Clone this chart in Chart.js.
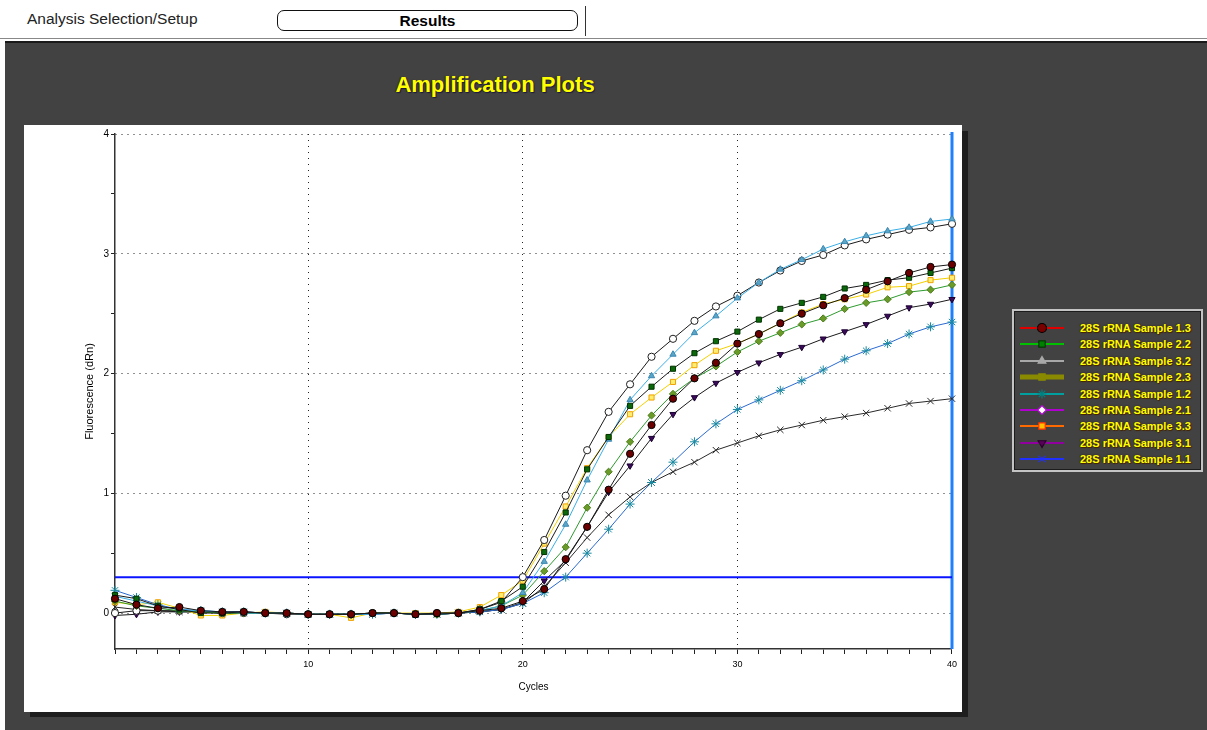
<!DOCTYPE html>
<html>
<head>
<meta charset="utf-8">
<title>Amplification Plots</title>
<script src="https://cdn.jsdelivr.net/npm/chart.js@4.4.1/dist/chart.umd.min.js"></script>
<style>
  body { margin: 0; width: 1207px; height: 730px; background: #fff; position: relative; overflow: hidden;
         font-family: "Liberation Sans", Arial, sans-serif; }
  #setup { position: absolute; left: 27px; top: 10px; font-size: 15.5px; color: #222; }
  #results { position: absolute; left: 277px; top: 10px; width: 299px; height: 19px; border: 1.5px solid #111;
             border-radius: 7px; text-align: center; font-weight: bold; font-size: 15.5px; line-height: 19px; color: #000; }
  #sep { position: absolute; left: 585px; top: 6px; width: 1px; height: 30px; background: #333; }
  #rule { position: absolute; left: 0; top: 38px; width: 1207px; height: 1px; background: #888; }
  #panel { position: absolute; left: 5px; top: 41px; width: 1202px; height: 689px; background: #424242;
           border-top: 2px solid #1a1a1a; box-sizing: border-box; }
  #title { position: absolute; left: 0; top: 71px; width: 990px; text-align: center; font-weight: bold;
           font-size: 22px; line-height: 28px; color: #ffff00; text-shadow: 1px 1px 1px #1a1a3a, -1px 0 1px #3a2a1a; }
  #card { position: absolute; left: 24px; top: 125px; width: 938px; height: 587px; background: #fff; }
  #shadowR { position: absolute; left: 962px; top: 131px; width: 6px; height: 586px; background: #1e1e1e; }
  #shadowB { position: absolute; left: 30px; top: 712px; width: 938px; height: 5px; background: #1e1e1e; }
  #legend { position: absolute; left: 1012px; top: 309px; width: 191px; height: 163px; box-sizing: border-box;
            border: 2px solid #c4c4c4; box-shadow: inset 0 0 0 1px #1c1c1c; background: #424242; }
  .row { position: absolute; left: 4px; height: 16px; width: 185px; }
  .row canvas { position: absolute; left: 0; top: 1px; }
  .row span { position: absolute; left: 62px; top: 0; font-weight: bold; font-size: 11px; line-height: 16px;
              color: #ffff00; white-space: nowrap; text-shadow: 0 0 2px #3a1a00, 1px 1px 0 #4a2a00; }
</style>
</head>
<body>
<div id="setup">Analysis Selection/Setup</div>
<div id="results">Results</div>
<div id="sep"></div>
<div id="rule"></div>
<div id="panel"></div>
<div id="title">Amplification Plots</div>
<div id="shadowR"></div>
<div id="shadowB"></div>
<div id="card"><canvas id="chart" width="938" height="587"></canvas></div>
<div id="legend"></div>

<script>
// cycle numbers on the x axis
const cycles = [1, 2, 3, 4, 5, 6, 7, 8, 9, 10, 11, 12, 13, 14, 15, 16, 17, 18, 19, 20,
                21, 22, 23, 24, 25, 26, 27, 28, 29, 30, 31, 32, 33, 34, 35, 36, 37, 38, 39, 40];

// fluorescence (dRn) per cycle
const sample13 = [0.12, 0.07, 0.04, 0.05, 0.02, 0.01, 0.01, 0.00, 0.00, -0.01, -0.01, -0.01, 0.00, 0.00, -0.01, 0.00, 0.00, 0.02, 0.04, 0.10,
                  0.20, 0.45, 0.72, 1.03, 1.33, 1.57, 1.79, 1.96, 2.09, 2.25, 2.33, 2.42, 2.50, 2.57, 2.63, 2.70, 2.77, 2.84, 2.89, 2.91];
const sample22 = [0.15, 0.12, 0.06, 0.03, 0.00, 0.00, 0.01, 0.00, 0.00, -0.01, -0.01, -0.01, 0.00, 0.00, -0.01, -0.01, 0.00, 0.03, 0.10, 0.22,
                  0.51, 0.84, 1.20, 1.47, 1.73, 1.89, 2.04, 2.17, 2.27, 2.35, 2.45, 2.54, 2.59, 2.64, 2.71, 2.74, 2.78, 2.80, 2.84, 2.88];
const sample32 = [0.14, 0.10, 0.06, 0.03, 0.02, 0.01, 0.00, 0.00, 0.00, -0.01, -0.01, -0.01, -0.01, 0.00, -0.01, -0.01, 0.00, 0.02, 0.06, 0.17,
                  0.43, 0.74, 1.11, 1.45, 1.78, 1.98, 2.16, 2.34, 2.48, 2.63, 2.76, 2.87, 2.95, 3.04, 3.10, 3.15, 3.19, 3.22, 3.27, 3.29];
const sample23 = [0.10, 0.06, 0.04, 0.02, 0.01, 0.00, 0.00, 0.00, 0.00, -0.01, -0.01, -0.01, 0.00, 0.00, -0.01, -0.01, 0.00, 0.02, 0.06, 0.15,
                  0.35, 0.55, 0.88, 1.18, 1.43, 1.65, 1.83, 1.96, 2.06, 2.18, 2.27, 2.34, 2.41, 2.46, 2.54, 2.59, 2.62, 2.68, 2.70, 2.74];
const sample12 = [0.19, 0.13, 0.07, 0.03, 0.02, 0.01, 0.01, 0.00, 0.00, -0.01, -0.01, -0.01, -0.01, 0.00, -0.01, -0.01, 0.00, 0.01, 0.03, 0.08,
                  0.17, 0.30, 0.50, 0.70, 0.91, 1.09, 1.26, 1.43, 1.58, 1.70, 1.78, 1.86, 1.94, 2.03, 2.12, 2.19, 2.25, 2.33, 2.39, 2.43];
const sample21 = [0.00, 0.02, 0.02, 0.02, 0.01, 0.00, 0.00, 0.00, -0.01, -0.01, -0.01, -0.01, 0.00, 0.00, -0.01, 0.00, 0.00, 0.03, 0.09, 0.30,
                  0.61, 0.98, 1.36, 1.68, 1.91, 2.14, 2.29, 2.44, 2.56, 2.65, 2.76, 2.86, 2.94, 2.99, 3.07, 3.12, 3.16, 3.20, 3.22, 3.25];
const sample33 = [0.09, 0.07, 0.09, 0.04, -0.02, -0.02, 0.00, 0.01, 0.00, -0.01, -0.01, -0.04, 0.00, 0.00, 0.00, 0.00, 0.01, 0.05, 0.15, 0.27,
                  0.58, 0.89, 1.21, 1.47, 1.66, 1.80, 1.93, 2.07, 2.19, 2.25, 2.33, 2.42, 2.51, 2.58, 2.62, 2.66, 2.72, 2.73, 2.78, 2.80];
const sample31 = [-0.02, -0.01, 0.01, 0.01, 0.01, 0.01, 0.01, 0.00, 0.00, -0.01, -0.01, -0.01, 0.00, 0.00, -0.01, -0.01, 0.00, 0.01, 0.03, 0.09,
                  0.27, 0.44, 0.72, 1.01, 1.23, 1.46, 1.66, 1.80, 1.92, 2.01, 2.09, 2.16, 2.22, 2.29, 2.35, 2.41, 2.48, 2.55, 2.58, 2.62];
const sample11 = [0.05, 0.03, 0.02, 0.01, 0.01, 0.00, 0.00, 0.00, 0.00, -0.01, -0.01, -0.01, -0.01, 0.00, -0.01, -0.01, 0.00, 0.01, 0.03, 0.08,
                  0.22, 0.42, 0.63, 0.82, 0.97, 1.09, 1.18, 1.26, 1.36, 1.42, 1.48, 1.53, 1.57, 1.61, 1.64, 1.67, 1.71, 1.75, 1.77, 1.79];

const seriesNames = ['28S rRNA Sample 1.3', '28S rRNA Sample 2.2', '28S rRNA Sample 3.2',
                     '28S rRNA Sample 2.3', '28S rRNA Sample 1.2', '28S rRNA Sample 2.1',
                     '28S rRNA Sample 3.3', '28S rRNA Sample 3.1', '28S rRNA Sample 1.1'];
const seriesValues = [sample13, sample22, sample32, sample23, sample12, sample21, sample33, sample31, sample11];

const threshold = 0.3;      // horizontal threshold line
const cursorCycle = 40;     // vertical cursor line
const xLabelTicks = [10, 20, 30, 40];
const yLabelTicks = [0, 1, 2, 3, 4];

// look of each series in the plot
const plotStyles = [
  { line: '#1a1a1a', fill: '#6a0000', edge: '#000000', shape: 'circle', rot: 0 },
  { line: '#1a1a1a', fill: '#0b680b', edge: '#003300', shape: 'rect', rot: 0 },
  { line: '#3aaee6', fill: '#5aa6c8', edge: '#3a86b0', shape: 'triangle', rot: 0 },
  { line: '#2e9a2e', fill: '#6a9a28', edge: '#4a7a18', shape: 'rectRot', rot: 0 },
  { line: '#2a6ad0', fill: '#1a8aa0', edge: '#1a8aa0', shape: 'star', rot: 0 },
  { line: '#1a1a1a', fill: '#ffffff', edge: '#202020', shape: 'circle', rot: 0 },
  { line: '#f2d000', fill: '#ffee70', edge: '#f0a000', shape: 'rect', rot: 0 },
  { line: '#1a1a1a', fill: '#3c0a5a', edge: '#1a0030', shape: 'triangle', rot: 180 },
  { line: '#2a2a2a', fill: '#2a2a2a', edge: '#2a2a2a', shape: 'crossRot', rot: 0 }
];
// look of each series in the legend box
const legendStyles = [
  { line: '#e00000', fill: '#7a0000', edge: '#000000', shape: 'circle', rot: 0, w: 2 },
  { line: '#00c000', fill: '#008000', edge: '#003a00', shape: 'rect', rot: 0, w: 2 },
  { line: '#a8a8a8', fill: '#a8a8a8', edge: '#a8a8a8', shape: 'triangle', rot: 0, w: 2 },
  { line: '#8a8a00', fill: '#8a8a00', edge: '#8a8a00', shape: 'rect', rot: 0, w: 5 },
  { line: '#00a0a0', fill: '#00a0a0', edge: '#008080', shape: 'star', rot: 0, w: 2 },
  { line: '#b000d0', fill: '#ffffff', edge: '#b000d0', shape: 'rectRot', rot: 0, w: 2 },
  { line: '#ff6a00', fill: '#ffc000', edge: '#ff3000', shape: 'rect', rot: 0, w: 2 },
  { line: '#9000a0', fill: '#5a005a', edge: '#2a002a', shape: 'triangle', rot: 180, w: 2 },
  { line: '#2030ff', fill: '#2030ff', edge: '#2030ff', shape: 'crossRot', rot: 0, w: 2 }
];

Chart.defaults.font.family = '"Liberation Sans", Arial, sans-serif';
Chart.defaults.color = '#000';

function makeDatasets() {
  const sets = seriesValues.map(function (vals, i) {
    const s = plotStyles[i];
    return {
      label: seriesNames[i],
      data: cycles.map(function (c, k) { return { x: c, y: vals[k] }; }),
      borderColor: s.line,
      borderWidth: 1,
      pointStyle: s.shape,
      pointRotation: s.rot,
      pointRadius: s.shape === 'star' || s.shape === 'crossRot' ? 4.5 : 3.6,
      pointBackgroundColor: s.fill,
      pointBorderColor: s.edge,
      pointBorderWidth: 1,
      tension: 0,
      clip: false
    };
  });
  sets.push({
    label: 'Threshold',
    data: [{ x: cycles[0], y: threshold }, { x: cycles[cycles.length - 1], y: threshold }],
    borderColor: '#0a14ff',
    borderWidth: 2,
    pointRadius: 0,
    clip: false
  });
  return sets;
}

const cursorLine = {
  id: 'cursorLine',
  beforeDatasetsDraw: function (chart) {
    const x = chart.scales.x.getPixelForValue(cursorCycle);
    const a = chart.chartArea;
    const ctx = chart.ctx;
    ctx.save();
    ctx.strokeStyle = '#1f7fff';
    ctx.lineWidth = 3;
    ctx.beginPath();
    ctx.moveTo(x, a.top - 2);
    ctx.lineTo(x, a.bottom);
    ctx.stroke();
    ctx.restore();
  }
};

function makeAmplificationChart() {
  const ctx = document.getElementById('chart').getContext('2d');
  new Chart(ctx, {
    type: 'line',
    data: { datasets: makeDatasets() },
    options: {
      responsive: false,
      animation: false,
      layout: { padding: { top: 9, right: 8, left: 0, bottom: 0 } },
      plugins: { legend: { display: false }, tooltip: { enabled: false } },
      scales: {
        x: {
          type: 'linear', min: 1, max: 40,
          afterFit: function (s) { s.height = 63; },
          ticks: {
            stepSize: 1, autoSkip: false, maxRotation: 0, padding: 5, font: { size: 9 },
            callback: function (v) { return xLabelTicks.indexOf(v) >= 0 ? String(v) : ''; }
          },
          grid: {
            color: function (c) {
              const v = c.tick ? c.tick.value : null;
              return (v !== null && xLabelTicks.indexOf(v) >= 0 && v !== cursorCycle) ? '#222' : 'rgba(0,0,0,0)';
            },
            tickColor: '#222', tickLength: 5, tickWidth: 1
          },
          border: { color: '#333', width: 1.5, dash: [1, 5] },
          title: { display: true, text: 'Cycles', font: { size: 10 }, padding: { top: 0, bottom: 19 } }
        },
        y: {
          min: -0.3, max: 4,
          afterFit: function (s) { s.width = 91; },
          ticks: {
            stepSize: 0.5, includeBounds: false, padding: 2, font: { size: 10 },
            callback: function (v) { return yLabelTicks.indexOf(v) >= 0 ? String(v) : ''; }
          },
          grid: {
            color: function (c) {
              const v = c.tick ? c.tick.value : null;
              return (v !== null && yLabelTicks.indexOf(v) >= 0) ? '#222' : 'rgba(0,0,0,0)';
            },
            tickColor: '#222', tickLength: 4, tickWidth: 1
          },
          border: { color: '#333', width: 1.5, dash: [1, 5] },
          title: { display: true, text: 'Fluorescence (dRn)', font: { size: 11 }, padding: { top: 59, bottom: 0 } }
        }
      }
    },
    plugins: [cursorLine]
  });
}

function makeLegend() {
  const box = document.getElementById('legend');
  seriesNames.forEach(function (name, i) {
    const s = legendStyles[i];
    const row = document.createElement('div');
    row.className = 'row';
    row.style.top = (9 + i * 16.4) + 'px';
    const cv = document.createElement('canvas');
    cv.width = 48; cv.height = 14;
    const g = cv.getContext('2d');
    g.strokeStyle = s.line;
    g.lineWidth = s.w;
    g.beginPath(); g.moveTo(2, 7); g.lineTo(46, 7); g.stroke();
    g.fillStyle = s.fill;
    g.strokeStyle = s.edge;
    g.lineWidth = 1.2;
    Chart.helpers.drawPoint(g, { pointStyle: s.shape, rotation: s.rot, radius: 4.5, borderWidth: 1.2 }, 24, 7);
    row.appendChild(cv);
    const label = document.createElement('span');
    label.textContent = name;
    row.appendChild(label);
    box.appendChild(row);
  });
}

window.onload = function () {
  makeAmplificationChart();
  makeLegend();
};
</script>
</body>
</html>
